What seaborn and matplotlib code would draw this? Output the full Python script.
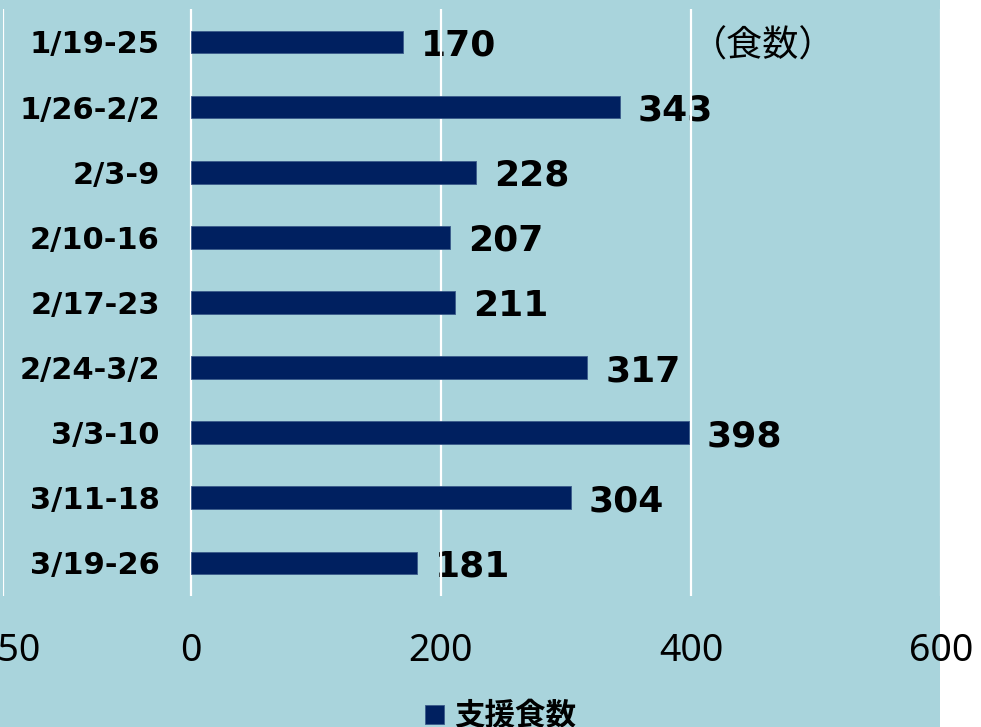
import matplotlib
matplotlib.use("Agg")
import matplotlib.pyplot as plt
from matplotlib.patches import Rectangle
import seaborn as sns
import pandas as pd

weeks = ["1/19-25", "1/26-2/2", "2/3-9", "2/10-16", "2/17-23",
         "2/24-3/2", "3/3-10", "3/11-18", "3/19-26"]
meals = [170, 343, 228, 207, 211, 317, 398, 304, 181]
x_ticks = [-150, 0, 200, 400, 600]
x_tick_labels = ["-150", "0", "200", "400", "600"]
series_name = "支援食数"
unit_label = "（食数）"

BG = "#A9D4DC"
NAVY = "#002060"

sns.set_theme(style="white")
plt.rcParams["font.family"] = ["DejaVu Sans", "Noto Sans CJK JP"]
plt.rcParams["axes.unicode_minus"] = False

W, H = 981, 727
fig = plt.figure(figsize=(W / 100, H / 100), dpi=100)
fig.patch.set_facecolor("white")
fig.add_artist(Rectangle((0, 0), 940 / W, 1, transform=fig.transFigure,
                         facecolor=BG, edgecolor="none", zorder=-10))

left_px, right_px = 2.8, 941.4
top_px, bot_px = 9.4, 595.5
ax = fig.add_axes([left_px / W, 1 - bot_px / H,
                   (right_px - left_px) / W, (bot_px - top_px) / H])
ax.set_facecolor(BG)

df = pd.DataFrame({"week": weeks, "meals": meals})
sns.barplot(data=df, x="meals", y="week", orient="h", color=NAVY,
            saturation=1, width=0.35, ax=ax, label=series_name, zorder=2,
            edgecolor="#3a5a8a", linewidth=0.6)

ax.set_xlim(-150, 600)
ax.set_ylim(len(weeks) - 0.5, -0.5)
ax.set_xticks(x_ticks)
ax.set_xticklabels(x_tick_labels, fontfamily="Noto Sans", fontsize=27,
                   color="black")
ax.set_xlabel("")
ax.set_ylabel("")

for s in ax.spines.values():
    s.set_visible(False)
ax.spines["left"].set_position(("data", 0))
ax.tick_params(axis="y", length=0, pad=22)
ax.tick_params(axis="x", length=0, pad=26)
for lbl in ax.get_yticklabels():
    lbl.set_fontsize(22)
    lbl.set_fontweight("bold")
    lbl.set_color("black")

ax.set_axisbelow("line")
ax.grid(axis="x", color="white", linewidth=1.6)
ax.grid(axis="y", visible=False)

labels = ax.bar_label(ax.containers[0], padding=13, fontsize=26,
                      fontweight="bold", color="black")
for t in labels:
    t.set_zorder(1)
    x0, y0 = t.xyann
    t.xyann = (x0, y0 - 2.5)

fig.text(763 / W, 1 - 47 / H, unit_label, ha="center", va="center",
         fontsize=26, family=["Noto Sans CJK JP", "DejaVu Sans"],
         color="black")

leg = ax.legend(loc="center", bbox_to_anchor=(501 / W, 1 - 716 / H),
                bbox_transform=fig.transFigure, frameon=False,
                handlelength=0.6, handleheight=0.6, handletextpad=0.35,
                prop={"family": "Noto Sans CJK JP", "weight": "bold",
                      "size": 22})
for txt in leg.get_texts():
    txt.set_color("black")

fig.savefig("out.png", dpi=100, facecolor=fig.get_facecolor())
